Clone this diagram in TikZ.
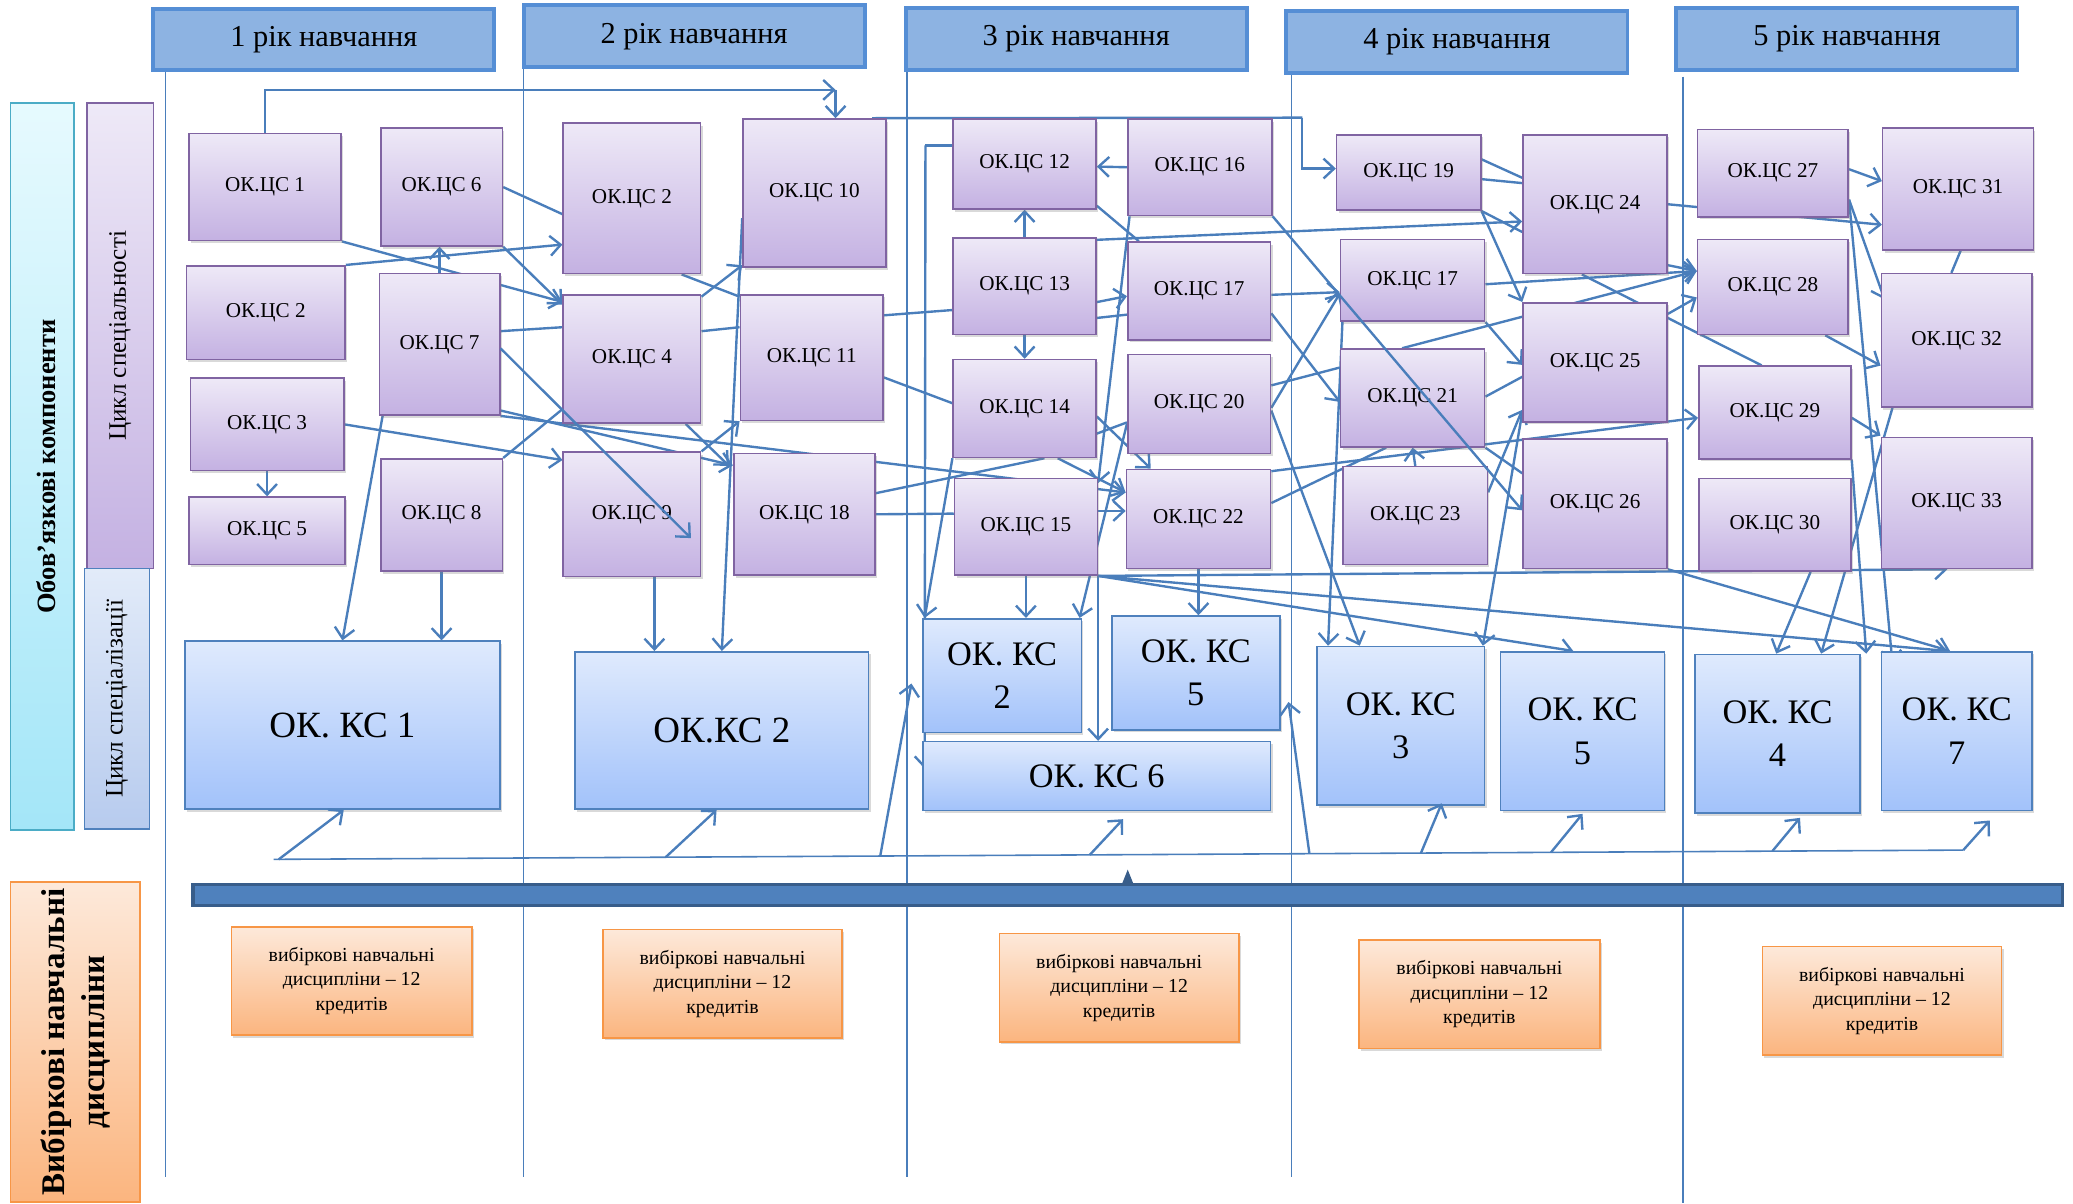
\documentclass[tikz,border=0pt]{standalone}
\usepackage{fontspec}
\setmainfont{Liberation Serif}
\usetikzlibrary{arrows.meta, shadows}
\pgfdeclarelayer{background}
\pgfsetlayers{background,main}

\definecolor{lnblue}{HTML}{4A7EBB}
\definecolor{hdfill}{HTML}{8DB3E2}
\definecolor{hdline}{HTML}{558ED5}
\definecolor{cstop}{HTML}{EEE9F7}
\definecolor{csbot}{HTML}{C4B1E2}
\definecolor{csline}{HTML}{8064A2}
\definecolor{kstop}{HTML}{DFEAFD}
\definecolor{ksbot}{HTML}{A2C2FA}
\definecolor{ksline}{HTML}{4F81BD}
\definecolor{cytop}{HTML}{E6FAFE}
\definecolor{cybot}{HTML}{A4E6F8}
\definecolor{cyline}{HTML}{4BACC6}
\definecolor{bltop}{HTML}{E2EBF9}
\definecolor{blbot}{HTML}{B7CBEE}
\definecolor{ortop}{HTML}{FDE9DA}
\definecolor{orbot}{HTML}{FBB57F}
\definecolor{orline}{HTML}{F79646}
\definecolor{barfill}{HTML}{4F81BD}
\definecolor{barline}{HTML}{385D8A}

% box given by its corners (x1,y1) and (x2,y2), y measured downwards
\newcommand{\boxnode}[7]{%
  \node [#1, minimum width={#5-#3}, minimum height={#6-#4}]
        (#2) at ({(#3+#5)/2}, {(#4+#6)/2}) {#7};}

\tikzset{
  shade box/.style={drop shadow={shadow xshift=1.5pt, shadow yshift=-2pt, opacity=0.3}},
  cs/.style={shade box, draw=csline, line width=1.2pt, top color=cstop,
    bottom color=csbot, inner sep=1pt, font=\fontsize{16}{18}\selectfont},
  ks/.style={shade box, draw=ksline, line width=1.2pt, top color=kstop,
    bottom color=ksbot, inner sep=1pt, align=center,
    font=\fontsize{26}{33}\selectfont},
  year/.style={draw=hdline, line width=3pt, fill=hdfill,
    font=\fontsize{23}{26}\selectfont},
  opt/.style={shade box, draw=orline, line width=1.2pt, top color=ortop,
    bottom color=orbot, align=center, inner sep=1pt,
    font=\fontsize{15}{18.5}\selectfont},
  sidecy/.style={draw=cyline, line width=1.2pt, top color=cytop, bottom color=cybot},
  sidepu/.style={draw=csline, line width=1.2pt, top color=cstop, bottom color=csbot},
  sidebl/.style={draw=ksline, line width=1.2pt, top color=bltop, bottom color=blbot},
  sideor/.style={draw=orline, line width=1.2pt, top color=ortop, bottom color=orbot},
  rot/.style={rotate=90, inner sep=0pt},
  bus/.style={draw=barline, line width=2.5pt, fill=barfill},
  arr/.style={draw=lnblue, line width=1.8pt, -{Straight Barb[length=8pt, width=15pt]}},
  ln/.style={draw=lnblue, line width=1.8pt},
  colline/.style={draw=lnblue, line width=0.9pt},
}

\begin{document}
\begin{tikzpicture}[x=1pt, y=-1pt]
  \useasboundingbox (0,0) rectangle (1568,910);

  % Year headers.
  \boxnode{year}{y1}{116}{7}{374}{53}{1 рік навчання}
  \boxnode{year}{y2}{396}{4}{654}{51}{2 рік навчання}
  \boxnode{year}{y3}{685}{6}{943}{53}{3 рік навчання}
  \boxnode{year}{y4}{973}{8}{1231}{55}{4 рік навчання}
  \boxnode{year}{y5}{1268}{6}{1526}{53}{5 рік навчання}

  % Side labels.
  \boxnode{sidecy}{oblig}{8}{78}{56}{628}{}
  \node [rot, font=\fontsize{20}{22}\selectfont\bfseries]
        (obligt) at ([xshift=3pt]oblig) {Обов’язкові компоненти};
  \boxnode{sidepu}{spec}{66}{78}{116}{430}{}
  \node [rot, font=\fontsize{19}{21}\selectfont] (spect) at (spec) {Цикл спеціальності};
  \boxnode{sidebl}{szn}{64}{430}{113}{627}{}
  \node [rot, font=\fontsize{19}{21}\selectfont] (sznt) at (szn) {Цикл спеціалізації};
  \boxnode{sideor}{elect}{8}{667}{106}{909}{}
  \node [rot, align=center, font=\fontsize{25}{30}\selectfont\bfseries]
        (electt) at (elect) {Вибіркові навчальні\\дисципліни};

  % Special cycle: year 1.
  \boxnode{cs}{c1}{143}{101}{258}{182}{ОК.ЦС 1}
  \boxnode{cs}{c6}{288}{97}{380}{186}{ОК.ЦС 6}
  \boxnode{cs}{c2a}{141}{201}{261}{272}{ОК.ЦС 2}
  \boxnode{cs}{c7}{287}{207}{378}{314}{ОК.ЦС 7}
  \boxnode{cs}{c3}{144}{286}{260}{356}{ОК.ЦС 3}
  \boxnode{cs}{c5}{143}{376}{261}{427}{ОК.ЦС 5}
  \boxnode{cs}{c8}{288}{347}{380}{432}{ОК.ЦС 8}
  % Year 2.
  \boxnode{cs}{c2b}{426}{93}{530}{207}{ОК.ЦС 2}
  \boxnode{cs}{c4}{426}{223}{530}{320}{ОК.ЦС 4}
  \boxnode{cs}{c9}{426}{342}{530}{436}{ОК.ЦС 9}
  \boxnode{cs}{c10}{562}{90}{670}{202}{ОК.ЦС 10}
  \boxnode{cs}{c11}{560}{223}{668}{318}{ОК.ЦС 11}
  \boxnode{cs}{c18}{555}{343}{662}{435}{ОК.ЦС 18}
  % Year 3.
  \boxnode{cs}{c12}{721}{90}{829}{158}{ОК.ЦС 12}
  \boxnode{cs}{c13}{721}{180}{829}{253}{ОК.ЦС 13}
  \boxnode{cs}{c14}{721}{272}{829}{346}{ОК.ЦС 14}
  \boxnode{cs}{c15}{722}{362}{830}{435}{ОК.ЦС 15}
  \boxnode{cs}{c16}{853}{90}{962}{163}{ОК.ЦС 16}
  \boxnode{cs}{c17a}{853}{183}{961}{257}{ОК.ЦС 17}
  \boxnode{cs}{c20}{853}{268}{961}{343}{ОК.ЦС 20}
  \boxnode{cs}{c22}{852}{355}{961}{430}{ОК.ЦС 22}
  % Year 4.
  \boxnode{cs}{c19}{1011}{102}{1120}{159}{ОК.ЦС 19}
  \boxnode{cs}{c17b}{1014}{181}{1123}{243}{ОК.ЦС 17}
  \boxnode{cs}{c21}{1014}{264}{1123}{338}{ОК.ЦС 21}
  \boxnode{cs}{c23}{1016}{353}{1125}{427}{ОК.ЦС 23}
  \boxnode{cs}{c24}{1152}{102}{1261}{207}{ОК.ЦС 24}
  \boxnode{cs}{c25}{1152}{229}{1261}{319}{ОК.ЦС 25}
  \boxnode{cs}{c26}{1152}{332}{1261}{430}{ОК.ЦС 26}
  % Year 5.
  \boxnode{cs}{c27}{1284}{98}{1398}{164}{ОК.ЦС 27}
  \boxnode{cs}{c28}{1284}{181}{1398}{253}{ОК.ЦС 28}
  \boxnode{cs}{c29}{1285}{277}{1400}{347}{ОК.ЦС 29}
  \boxnode{cs}{c30}{1285}{362}{1400}{432}{ОК.ЦС 30}
  \boxnode{cs}{c31}{1424}{97}{1538}{189}{ОК.ЦС 31}
  \boxnode{cs}{c32}{1423}{207}{1537}{308}{ОК.ЦС 32}
  \boxnode{cs}{c33}{1423}{331}{1537}{430}{ОК.ЦС 33}

  % Specialization cycle.
  \boxnode{ks, font=\fontsize{28}{33}\selectfont}{k1}{140}{485}{378}{612}{ОК. КС 1}
  \boxnode{ks, font=\fontsize{28}{33}\selectfont}{k2}{435}{493}{657}{612}{ОК.КС 2}
  \boxnode{ks}{k2s}{698}{468}{818}{554}{ОК. КС\\2}
  \boxnode{ks}{k5a}{841}{466}{968}{552}{ОК. КС\\5}
  \boxnode{ks}{k6}{698}{561}{961}{613}{ОК. КС 6}
  \boxnode{ks}{k3}{996}{489}{1123}{609}{ОК. КС\\3}
  \boxnode{ks}{k5b}{1135}{493}{1259}{613}{ОК. КС\\5}
  \boxnode{ks}{k4}{1282}{495}{1407}{615}{ОК. КС\\4}
  \boxnode{ks}{k7}{1423}{493}{1537}{613}{ОК. КС\\7}

  % Elective block.
  \boxnode{bus}{bar}{146}{669}{1560}{685}{}
  \fill [barline] ([xshift=-4pt]bar.north) -- ++(4,-10) -- ++(4,10) -- cycle;
  \boxnode{opt}{v1}{175}{701}{357}{783}{вибіркові навчальні\\дисципліни – 12\\кредитів}
  \boxnode{opt}{v2}{456}{703}{637}{785}{вибіркові навчальні\\дисципліни – 12\\кредитів}
  \boxnode{opt}{v3}{756}{706}{937}{788}{вибіркові навчальні\\дисципліни – 12\\кредитів}
  \boxnode{opt}{v4}{1028}{711}{1210}{793}{вибіркові навчальні\\дисципліни – 12\\кредитів}
  \boxnode{opt}{v5}{1333}{716}{1514}{798}{вибіркові навчальні\\дисципліни – 12\\кредитів}

  \begin{pgfonlayer}{background}
    % Year columns.
    \foreach \x/\ya/\yb in {125/53/890, 396/40/890, 686/53/890, 977/55/890, 1273/58/910}
      \draw [colline] (\x,\ya) -- (\x,\yb);

    % Year 1 links.
    \coordinate (turn10) at (632,68);
    \draw [arr] (c1.north) |- (turn10);
    \draw [arr] (turn10) -- (turn10 |- c10.north);
    \draw [arr] (c1.south east) -- ([yshift=-6pt]c4.north west);
    \draw [arr] (c2a.north east) -- ([yshift=-35pt]c2b.west);
    \draw [arr] (c7.north) -- (c7.north |- c6.south);
    \draw [ln] (c6.east) -- ([yshift=-12pt]c2b.west);
    \draw [arr] (c6.south east) -- ([yshift=-8pt]c4.north west);
    \draw [ln] ([yshift=10pt]c7.east) -- ([yshift=24pt]c4.west);
    \draw [arr] ([yshift=-50pt]c7.east) -- ([yshift=37pt]c18.west);
    \draw [arr] (c7.south east) -- ([yshift=20pt]c22.west);
    \draw [arr] ([xshift=3pt]c7.south west) -- (k1.north);
    \draw [arr] (c8.south) -- (c8.south |- k1.north);
    \draw [arr] (c3.south) -- (c5.north);
    \draw [arr] (c3.east) -- ([yshift=41pt]c9.west);
    \draw [ln] (c8.north east) -- ([yshift=-38pt]c4.west);

    % Year 2 links.
    \draw [ln] ([xshift=-15pt]c2b.south east) -- ([yshift=-2pt]c11.north west);
    \draw [arr] ([yshift=-2pt]c4.north east) -- ([yshift=2pt]c10.south west);
    \draw [ln] ([yshift=21pt]c4.east) -- ([yshift=23pt]c11.west);
    \draw [arr] ([xshift=-12pt]c4.south east) -- ([xshift=-3pt, yshift=-10pt]c18.north west);
    \draw [arr] (c9.north east) -- (c11.south west);
    \draw [arr] ([xshift=17pt]c9.south) -- ([xshift=17pt]c9.south |- k2.north);
    \draw [arr] ([yshift=-19pt]c10.west) -- (k2.north);
    \draw [ln] ([yshift=-15pt]c11.east) -- ([yshift=4pt]c14.west);
    \draw [ln] ([yshift=32pt]c11.east) -- ([yshift=-18pt]c13.west);
    \draw [ln] ([yshift=16pt]c18.east) -- ([xshift=15pt]c14.south);
    \draw [ln] (c18.east) -- ([yshift=10pt]c15.west);

    % Year 3 links.
    \draw [arr] (c16.west) -- ([yshift=-2pt]c12.east);
    \draw [arr] (c13.north) -- (c12.south);
    \draw [arr] (c13.south) -- (c14.north);
    \draw [arr] ([yshift=-12pt]c13.east) -- ([yshift=-4pt]c17a.west);
    \draw [ln] ([yshift=-24pt]c13.east) -- ([yshift=-18pt]c17a.west);
    \draw [arr] ([yshift=-2pt]c13.north east) -- ([yshift=-13pt]c24.west);
    \draw [ln] ([yshift=3pt]c12.south east) -- ([xshift=9pt]c17a.north west);
    \coordinate (turn12) at (700,110);
    \draw [ln] ([yshift=14pt]c12.west) -- (turn12);
    \draw [arr] (turn12) -- ([xshift=2pt, yshift=-21pt]k6.north west);
    \draw [arr] (c14.south west) -- ([xshift=2pt]k2s.north west);
    \draw [arr] (c15.south) -- (c15.south |- k2s.north);
    \draw [arr] (c22.south) -- (c22.south |- k5a.north);
    \draw [arr] (c15.south east) -- (c15.south east |- k6.north);
    \draw [arr] ([yshift=-15pt]c20.west) -- ([xshift=-2pt]k2s.north east);
    \draw [arr] ([xshift=2pt]c16.south west) -- ([yshift=-4pt]c15.north east);
    \draw [arr] ([yshift=-6pt]c14.east) -- ([xshift=19pt]c22.north west);
    \draw [ln] ([yshift=-19pt]c14.east) -- ([yshift=-14pt]c20.west);
    \draw [arr] ([xshift=25pt]c14.south) -- ([yshift=20pt]c22.west);
    \draw [arr] ([yshift=12pt]c15.east) -- ([yshift=6pt]c22.west);
    \draw [arr] (c15.south east) -- ([xshift=-7pt]c33.south);
    \draw [arr] (c15.south east) -- ([xshift=-7pt]k5b.north);
    \draw [arr] (c15.south east) -- ([xshift=-7pt]k7.north);
    \draw [arr] (c26.south east) -- ([xshift=-5pt]k7.north);
    \draw [arr] ([yshift=-2pt]c22.north east) -- ([yshift=-4pt]c29.west);
    \draw [ln] ([yshift=12pt]c22.east) -- ([xshift=-20pt]c21.south);
    \draw [ln] ([yshift=14pt]c20.east) -- ([yshift=23pt]c21.west);
    \draw [arr] ([yshift=-3pt]c20.east) -- ([yshift=-10pt]c17b.west);
    \draw [arr] ([yshift=-3pt]c17a.east) -- ([yshift=-9pt]c17b.west);
    \draw [arr] ([yshift=-17pt]c17a.east) -- ([yshift=-3pt]c21.west);
    \draw [arr] ([yshift=-5pt]c20.east) -- ([xshift=-31pt]k3.north);

    % Year 4 links.
    \coordinate (turn19) at (985,89);
    \draw [ln] ([xshift=-11pt]c10.north east) -- (turn19);
    \draw [arr] (turn19) |- ([yshift=3pt]c19.west);
    \draw [arr] ([xshift=2pt]c17b.south west) -- ([xshift=-55pt]k3.north);
    \draw [arr] ([yshift=-38pt]c25.west) -- ([xshift=-2pt]k3.north east);
    \draw [arr] ([yshift=-20pt]c23.north east) -- ([yshift=-36pt]c25.west);
    \draw [ln] ([yshift=10pt]c19.east) -- ([yshift=20pt]c24.west);
    \draw [ln] ([yshift=-5pt]c19.east) -- ([yshift=16pt]c24.west);
    \draw [ln] (c19.south east) -- ([yshift=-21pt]c24.west);
    \draw [arr] (c19.south east) -- (c25.north west);
    \draw [arr] ([yshift=-3pt]c17b.east) -- ([yshift=12pt]c28.west);
    \draw [arr] (c17b.south east) -- ([yshift=-2pt]c25.west);
    \draw [arr] ([xshift=-8pt]c21.north) -- ([yshift=12pt]c28.west);
    \draw [ln] ([yshift=1pt]c21.east) -- ([yshift=-11pt]c25.west);
    \draw [arr] (c23.north) -- (c21.south);
    \draw [ln] (c21.south east) -- ([yshift=23pt]c26.west);
    \draw [arr] (c24.east) -- ([yshift=-27pt]c31.west);
    \draw [arr] ([yshift=7pt]c24.south east) -- ([yshift=12pt]c28.west);
    \draw [ln] ([xshift=-10pt]c24.south) -- ([xshift=-10pt]c29.north);
    \draw [arr] ([yshift=-9pt]c25.north east) -- ([yshift=-8pt]c28.west);

    % Year 5 links.
    \draw [arr] ([xshift=-18pt]c28.south east) -- ([yshift=-19pt]c32.west);
    \draw [arr] ([yshift=3pt]c27.east) -- ([yshift=6pt]c31.west);
    \draw [arr] ([yshift=-20pt]c27.east) -- ([xshift=3pt, yshift=-20pt]c32.north west);
    \draw [arr] ([yshift=-20pt]c27.east) -- ([xshift=9pt, yshift=-9pt]k7.north west);
    \draw [arr] ([yshift=-4pt]c29.east) -- ([yshift=51pt]c33.west);
    \draw [ln] ([xshift=2pt]c31.south) -- ([xshift=-4pt]c32.north);
    \draw [arr] ([xshift=27pt]c30.south) -- ([xshift=-1pt]k4.north);
    \draw [arr] ([xshift=9pt]c32.south west) -- ([xshift=33pt]k4.north);
    \draw [arr] (c29.south east) -- ([xshift=4pt]k4.north east);
  \end{pgfonlayer}

  % Links drawn over the boxes.
  \draw [arr] ([yshift=-3pt]c7.east) -- ([xshift=-8pt, yshift=-18pt]c9.east);
  \draw [arr] (c16.south east) -- ([yshift=-5pt]c26.west);

  % Electives feed the specialization cycle.
  \coordinate (bl) at (207,650);
  \coordinate (br) at (1485,643);
  \draw [draw=lnblue, line width=1.2pt] (bl) -- (br)
        coordinate [pos=0.003] (up1) coordinate [pos=0.232] (up2)
        coordinate [pos=0.359] (up3) coordinate [pos=0.483] (up4)
        coordinate [pos=0.613] (up5) coordinate [pos=0.679] (up6)
        coordinate [pos=0.756] (up7) coordinate [pos=0.887] (up8)
        coordinate [pos=1] (up9);
  \draw [arr] (up1) -- ([xshift=1pt]k1.south);
  \draw [arr] (up2) -- ([xshift=-4pt]k2.south);
  \draw [arr] (up3) -- ([xshift=-8pt, yshift=-6pt]k2s.west);
  \draw [arr] (up4) -- ([xshift=20pt, yshift=-6pt]k6.south);
  \draw [arr] (up5) -- ([xshift=6pt, yshift=-22pt]k5a.east);
  \draw [arr] (up6) -- ([xshift=31pt, yshift=2pt]k3.south);
  \draw [arr] (up7) -- ([yshift=-2pt]k5b.south);
  \draw [arr] (up8) -- ([xshift=17pt, yshift=-3pt]k4.south);
  \draw [arr] (up9) -- ([xshift=25pt, yshift=-7pt]k7.south);
\end{tikzpicture}
\end{document}
